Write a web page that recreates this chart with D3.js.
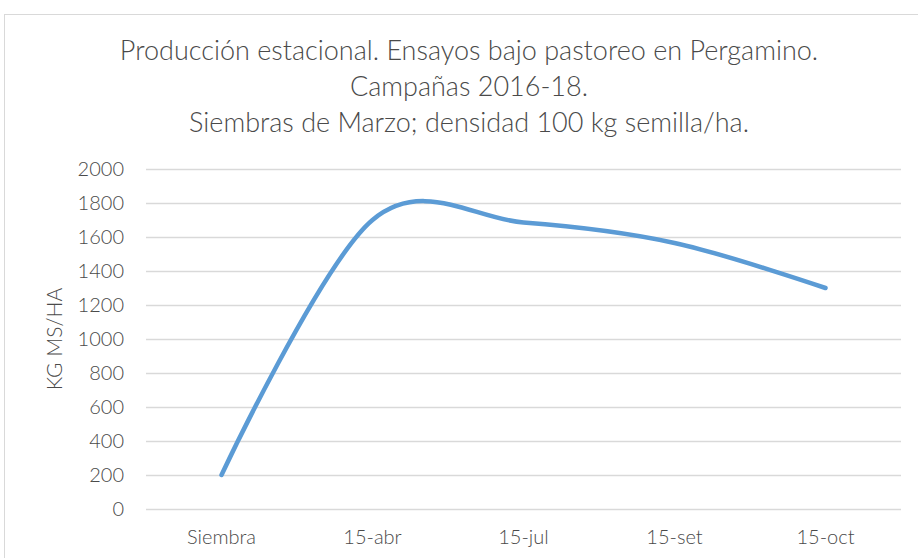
<!DOCTYPE html>
<html>
<head>
<meta charset="utf-8">
<script src="https://cdn.jsdelivr.net/npm/d3@7"></script>
<style>
  body { margin: 0; background: #fff; }
  svg { display: block; font-family: Lato, "Open Sans", sans-serif; }
</style>
</head>
<body>
<div class="chart"></div>
<script>
// Chart data
const categories = ["Siembra", "15-abr", "15-jul", "15-set", "15-oct"];
const values = [200, 1700, 1685, 1565, 1300];
const yTicks = [0, 200, 400, 600, 800, 1000, 1200, 1400, 1600, 1800, 2000];
const titleLines = [
  "Producción estacional. Ensayos bajo pastoreo en Pergamino.",
  "Campañas 2016-18.",
  "Siembras de Marzo; densidad 100 kg semilla/ha."
];
const yLabel = "KG MS/HA";

const width = 918, height = 558;
const plot = { left: 146, right: 901, top: 169, bottom: 509 };
const textColor = "#4a4a4a";

const svg = d3.select(".chart")
  .append("svg")
  .attr("width", width)
  .attr("height", height);

// outer chart frame (runs off the right and bottom edges)
svg.append("rect")
  .attr("x", 4.5).attr("y", 14.5)
  .attr("width", 1000).attr("height", 1000)
  .attr("fill", "#fff")
  .attr("stroke", "#d9d9d9")
  .attr("stroke-width", 1);

const x = d3.scaleBand().domain(categories).range([plot.left, plot.right]);
const y = d3.scaleLinear().domain([0, 2000]).range([plot.bottom, plot.top]);

// y axis with gridlines
const yAxis = d3.axisLeft(y)
  .tickValues(yTicks)
  .tickFormat(d3.format("d"))
  .tickSize(-(plot.right - plot.left))
  .tickPadding(22);

svg.append("g")
  .attr("class", "y-axis")
  .attr("transform", `translate(${plot.left},0)`)
  .call(yAxis)
  .call(g => g.select(".domain").remove())
  .call(g => g.selectAll(".tick line").attr("stroke", "#d9d9d9").attr("stroke-width", 1.3))
  .call(g => g.selectAll(".tick text")
    .attr("fill", textColor)
    .style("font-size", "20px")
    .style("font-weight", 300)
    .style("font-family", "Lato, sans-serif"));

// x axis labels
svg.append("g")
  .attr("class", "x-axis")
  .attr("transform", `translate(0,${plot.bottom})`)
  .call(d3.axisBottom(x).tickSize(0).tickPadding(21))
  .call(g => g.select(".domain").remove())
  .call(g => g.selectAll(".tick text")
    .attr("fill", textColor)
    .style("font-size", "20px")
    .style("font-weight", 300)
    .style("font-family", "Lato, sans-serif"));

// smoothed series line
const line = d3.line()
  .x((d, i) => x(categories[i]) + x.bandwidth() / 2)
  .y(d => y(d))
  .curve(d3.curveCardinal);

svg.append("path")
  .datum(values)
  .attr("fill", "none")
  .attr("stroke", "#5b9bd5")
  .attr("stroke-width", 4.5)
  .attr("stroke-linecap", "round")
  .attr("stroke-linejoin", "round")
  .attr("d", line);

// title
svg.append("g")
  .attr("class", "title")
  .selectAll("text")
  .data(titleLines)
  .enter()
  .append("text")
  .attr("x", 469)
  .attr("y", (d, i) => 60 + i * 36)
  .attr("text-anchor", "middle")
  .attr("fill", textColor)
  .style("font-size", "27px")
  .style("font-weight", 300)
  .text(d => d);

// y axis title
svg.append("text")
  .attr("transform", "translate(62,339) rotate(-90)")
  .attr("text-anchor", "middle")
  .attr("fill", textColor)
  .style("font-size", "21px")
  .style("font-weight", 300)
  .text(yLabel);
</script>
</body>
</html>
